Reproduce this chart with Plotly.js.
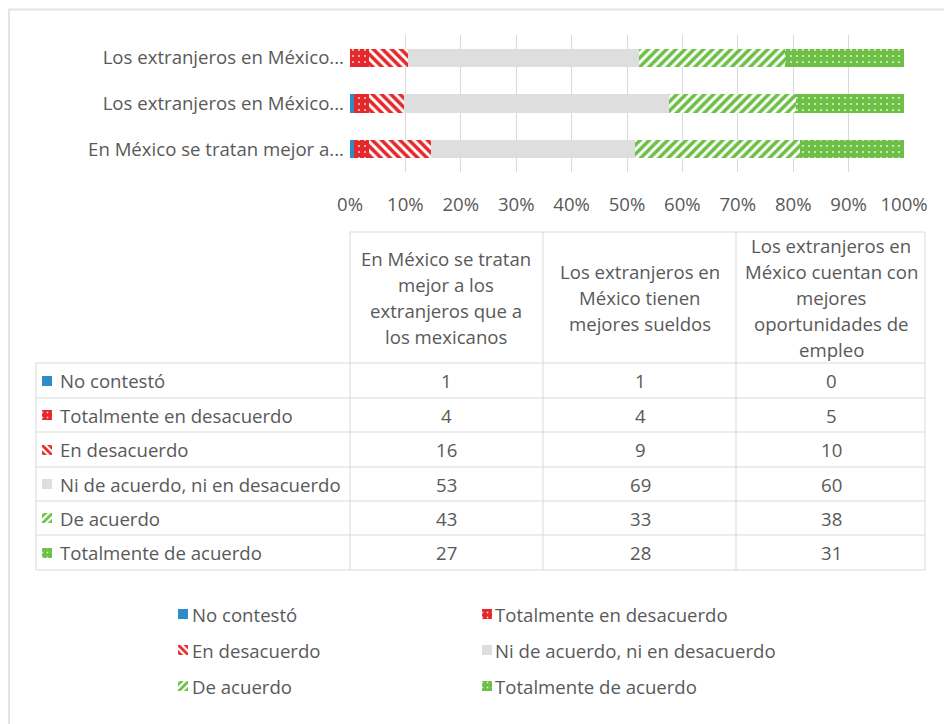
<!DOCTYPE html>
<html>
<head>
<meta charset="utf-8">
<script src="https://cdn.plot.ly/plotly-3.0.1.min.js"></script>
<style>html,body{margin:0;padding:0;background:#fff;}#chart{width:944px;height:724px;}</style>
</head>
<body>
<div id="chart"></div>
<script>
// ---- Data ----
const categories = [
  "En México se tratan mejor a los extranjeros que a los mexicanos",
  "Los extranjeros en México tienen mejores sueldos",
  "Los extranjeros en México cuentan con mejores oportunidades de empleo"
];
const categoryTickLabels = [
  "En México se tratan mejor a...",
  "Los extranjeros en México...",
  "Los extranjeros en México..."
];
const seriesNames = [
  "No contestó",
  "Totalmente en desacuerdo",
  "En desacuerdo",
  "Ni de acuerdo, ni en desacuerdo",
  "De acuerdo",
  "Totalmente de acuerdo"
];
const noContesto = [1, 1, 0];
const totalmenteEnDesacuerdo = [4, 4, 5];
const enDesacuerdo = [16, 9, 10];
const niDeAcuerdo = [53, 69, 60];
const deAcuerdo = [43, 33, 38];
const totalmenteDeAcuerdo = [27, 28, 31];
const headerLines = [
  ["En México se tratan", "mejor a los", "extranjeros que a", "los mexicanos"],
  ["Los extranjeros en", "México tienen", "mejores sueldos"],
  ["Los extranjeros en", "México cuentan con", "mejores", "oportunidades de", "empleo"]
];
const xTickValues = [0, 10, 20, 30, 40, 50, 60, 70, 80, 90, 100];
const xTickLabels = ["0%", "10%", "20%", "30%", "40%", "50%", "60%", "70%", "80%", "90%", "100%"];

// ---- Styles ----
const RED = "#e5282b", GREEN = "#6dbf45", BLUE = "#2e8ccb", GRAY = "#dedede";
const TXT = "#595959", LINE = "#d9d9d9", FONT = "Open Sans", FS = 18.6;
const styles = [
  {color: BLUE, pattern: {shape: ""}},
  {color: RED, pattern: {shape: ".", bgcolor: RED, fgcolor: "#ffffff", size: 6, solidity: 0.1, fgopacity: 0.75, fillmode: "overlay"}},
  {color: RED, pattern: {shape: "\\", bgcolor: "#ffffff", fgcolor: RED, size: 6.5, solidity: 0.55, fgopacity: 1, fillmode: "overlay"}},
  {color: GRAY, pattern: {shape: ""}},
  {color: GREEN, pattern: {shape: "/", bgcolor: "#ffffff", fgcolor: GREEN, size: 6.5, solidity: 0.55, fgopacity: 1, fillmode: "overlay"}},
  {color: GREEN, pattern: {shape: ".", bgcolor: GREEN, fgcolor: "#ffffff", size: 6, solidity: 0.1, fgopacity: 0.75, fillmode: "overlay"}}
];
const seriesValues = [noContesto, totalmenteEnDesacuerdo, enDesacuerdo, niDeAcuerdo, deAcuerdo, totalmenteDeAcuerdo];
const totals = categories.map((c, i) => seriesValues.reduce((s, arr) => s + arr[i], 0));

const W = 944, H = 724;
const traces = [];
seriesValues.forEach((vals, k) => {
  traces.push({
    type: "bar", orientation: "h", name: seriesNames[k],
    y: categories, x: vals.map((v, i) => v / totals[i] * 100),
    marker: {color: styles[k].color, pattern: styles[k].pattern, line: {width: 0}},
    showlegend: false, hoverinfo: "name+x", xaxis: "x", yaxis: "y"
  });
});

// table geometry (pixels)
const tblLeft = 36, col0 = 350, colX = [350, 543, 736, 925];
const headTop = 232;
const rowLines = [363, 398, 432, 467, 501, 535, 570];
const colCenters = [446, 640, 831];

// legend geometry
const legIconX = [178, 482], legTextX = [190, 493], legRowY = [614, 650, 686];

// icon traces (table + legend)
seriesValues.forEach((vals, k) => {
  const rowY = (rowLines[k] + rowLines[k + 1]) / 2;
  const lc = k % 2, lr = Math.floor(k / 2);
  traces.push({
    type: "bar", orientation: "h", xaxis: "x2", yaxis: "y2",
    y: [rowY, legRowY[lr]], base: [42, legIconX[lc]], x: [10, 10], width: [10, 10],
    marker: {color: styles[k].color, pattern: Object.assign({}, styles[k].pattern, {size: 5}), line: {width: 0}},
    showlegend: false, hoverinfo: "skip"
  });
});

const shapes = [];
const ln = (x0, y0, x1, y1, c, w) => shapes.push({type: "line", xref: "x2", yref: "y2", x0, y0, x1, y1, line: {color: c || LINE, width: w || 1}, layer: "below"});
// frame
shapes.push({type: "rect", xref: "x2", yref: "y2", x0: 9, y0: 9.5, x1: 980, y1: 760, line: {color: "#e3e3e3", width: 2}, layer: "below"});
ln(col0, headTop, colX[3], headTop);
rowLines.forEach(y => ln(tblLeft, y, colX[3], y));
ln(tblLeft, rowLines[0], tblLeft, rowLines[rowLines.length - 1]);
colX.forEach(x => ln(x, headTop, x, rowLines[rowLines.length - 1]));

const annotations = [];
const ann = (x, y, text, xanchor, size) => annotations.push({xref: "x2", yref: "y2", x, y, text, xanchor: xanchor || "center", yanchor: "middle", showarrow: false, font: {family: FONT, size: size || FS, color: TXT}});
// header
const lineStep = 26;
headerLines.forEach((lines, j) => {
  const mid = (headTop + rowLines[0]) / 2;
  const start = mid - (lines.length - 1) * lineStep / 2;
  lines.forEach((t, i) => ann(colCenters[j], start + i * lineStep, t));
});
// body rows
seriesNames.forEach((name, k) => {
  const rowY = (rowLines[k] + rowLines[k + 1]) / 2;
  ann(58, rowY, name, "left");
  categories.forEach((c, j) => ann(colCenters[j], rowY, String(seriesValues[k][j])));
});
// legend text
seriesNames.forEach((name, k) => ann(legTextX[k % 2], legRowY[Math.floor(k / 2)], name, "left"));

const layout = {
  width: W, height: H, margin: {l: 0, r: 0, t: 0, b: 0},
  paper_bgcolor: "#ffffff", plot_bgcolor: "rgba(0,0,0,0)",
  barmode: "stack", bargap: 0.6,
  font: {family: FONT, color: TXT, size: FS},
  xaxis: {
    domain: [350 / W, 904 / W], range: [0, 100], tickmode: "array", tickvals: xTickValues, ticktext: xTickLabels,
    showgrid: true, gridcolor: LINE, gridwidth: 1, zeroline: false, showline: false,
    ticks: "", ticklabelstandoff: 19, tickfont: {family: FONT, size: FS, color: TXT},
    anchor: "y", fixedrange: true
  },
  yaxis: {
    domain: [1 - 172 / H, 1 - 35 / H], type: "category", categoryorder: "array", categoryarray: categories,
    tickmode: "array", tickvals: categories, ticktext: categoryTickLabels, ticks: "", showgrid: false, zeroline: false,
    showline: false, ticklabelstandoff: 5, tickfont: {family: FONT, size: FS, color: TXT},
    anchor: "x", fixedrange: true
  },
  xaxis2: {domain: [0, 1], range: [0, W], visible: false, anchor: "y2", fixedrange: true},
  yaxis2: {domain: [0, 1], range: [H, 0], visible: false, anchor: "x2", fixedrange: true},
  shapes, annotations, showlegend: false
};

Plotly.newPlot("chart", traces, layout, {displayModeBar: false, staticPlot: true});
</script>
</body>
</html>
